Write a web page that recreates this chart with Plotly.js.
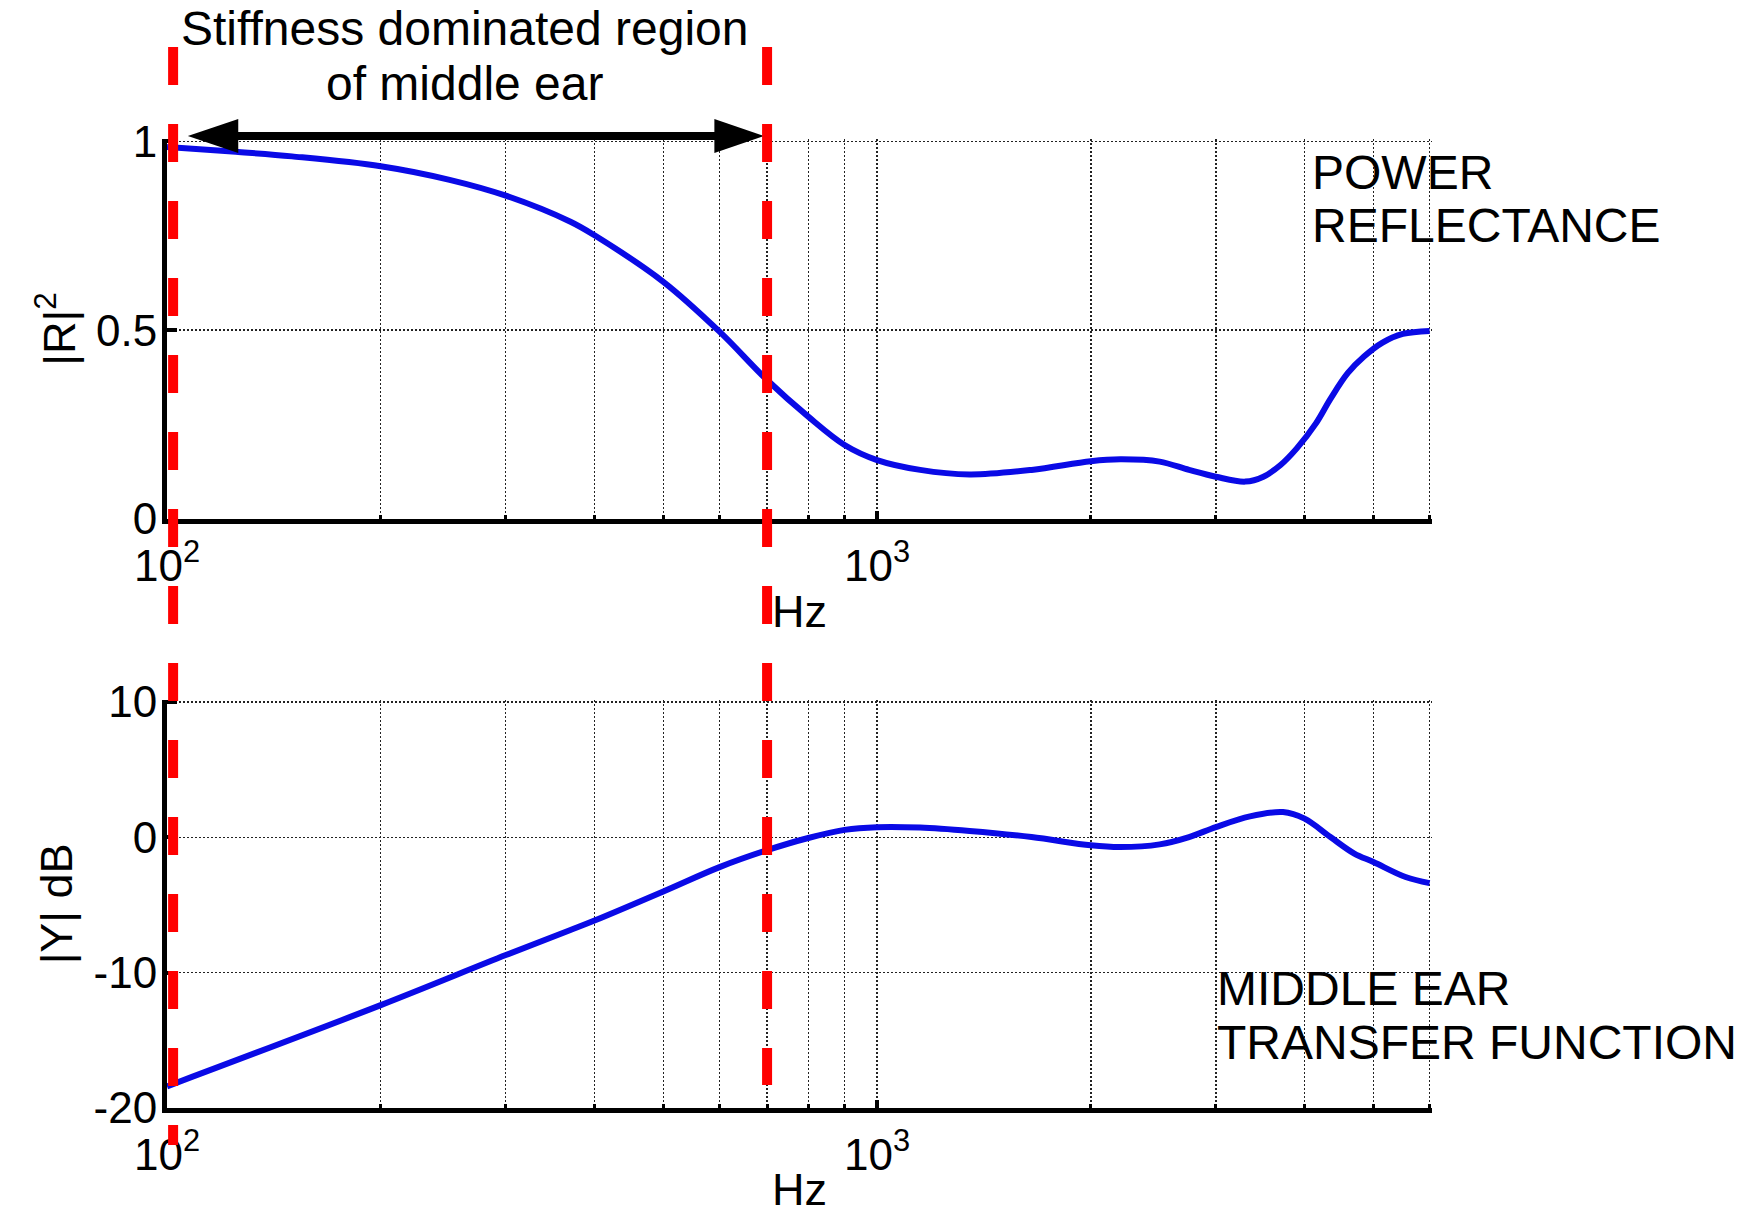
<!DOCTYPE html>
<html>
<head>
<meta charset="utf-8">
<script src="https://cdn.plot.ly/plotly-3.0.1.min.js"></script>
<style>html,body{margin:0;padding:0;background:#fff;}#chart{width:1753px;height:1215px;}</style>
</head>
<body>
<div id="chart"></div>
<script>
// ---- data ----
const freqR = [100, 125, 150, 200, 250, 300, 370, 400, 500, 600, 700, 800, 900, 1000, 1150, 1350, 1650, 2000, 2200, 2500, 2750, 3000, 3300, 3500, 3700, 3900, 4150, 4350, 4600, 4850, 5150, 5500, 6000];
const reflectance = [0.985, 0.972, 0.960, 0.934, 0.898, 0.856, 0.787, 0.751, 0.628, 0.496, 0.368, 0.271, 0.196, 0.156, 0.130, 0.118, 0.130, 0.153, 0.158, 0.152, 0.130, 0.112, 0.099, 0.112, 0.143, 0.187, 0.253, 0.318, 0.386, 0.430, 0.467, 0.490, 0.498];

const freqY = [100, 200, 300, 370, 400, 500, 600, 700, 800, 900, 1000, 1150, 1350, 1650, 2000, 2200, 2500, 2750, 3000, 3350, 3730, 4000, 4350, 4700, 5000, 5550, 6000];
const admittanceDb = [-18.4, -12.4, -8.7, -6.85, -6.15, -4.0, -2.2, -0.95, -0.05, 0.55, 0.75, 0.72, 0.47, 0.02, -0.59, -0.72, -0.52, 0.02, 0.76, 1.55, 1.87, 1.38, 0.02, -1.2, -1.82, -2.93, -3.38];

const xMajorTicks = [100, 1000];
const xMajorText = ['10<sup>2</sup>', '10<sup>3</sup>'];
const xMinorTicks = [200, 300, 400, 500, 600, 700, 800, 900, 2000, 3000, 4000, 5000, 6000];
const yTicksR = [0, 0.5, 1];
const yTextR = ['0', '0.5', '1'];
const yTicksY = [-20, -10, 0, 10];
const yTextY = ['-20', '-10', '0', '10'];

// stiffness-dominated region limits (Hz) and the arrow spanning it
const regionLow = 102;
const regionHigh = 700;
const arrowTips = [107, 693];
const arrowBases = [126, 590];

const panelLabels = [['POWER', 'REFLECTANCE'], ['MIDDLE EAR', 'TRANSFER FUNCTION']];
const titleLines = ['Stiffness dominated region', 'of middle ear'];

// ---- styling ----
const FONT = 'Liberation Sans, Arial, Helvetica, sans-serif';
const BLUE = '#0a0ae6';
const GRID = '#222222';

const traces = [
  {x: freqR, y: reflectance, xaxis: 'x', yaxis: 'y', type: 'scatter', mode: 'lines',
   line: {color: BLUE, width: 6, shape: 'spline', smoothing: 1}, hoverinfo: 'skip'},
  {x: freqY, y: admittanceDb, xaxis: 'x2', yaxis: 'y2', type: 'scatter', mode: 'lines',
   line: {color: BLUE, width: 6, shape: 'spline', smoothing: 1}, hoverinfo: 'skip'}
];

function xAxis(anchor) {
  return {
    type: 'log', range: [2, 3.7815], domain: [0, 1], anchor: anchor,
    showline: true, linecolor: '#000', linewidth: 5, zeroline: false,
    tickmode: 'array', tickvals: xMajorTicks, ticktext: xMajorText,
    ticks: 'inside', ticklen: 8, tickwidth: 4, tickcolor: '#000',
    ticklabelstandoff: 4,
    tickfont: {family: FONT, size: 44, color: '#000'},
    showgrid: true, gridcolor: GRID, gridwidth: 1.4, griddash: '2px,2px',
    minor: {tickmode: 'array', tickvals: xMinorTicks, ticks: 'inside', ticklen: 4, tickwidth: 3,
            tickcolor: '#000', showgrid: true, gridcolor: GRID, gridwidth: 1.4, griddash: '2px,2px'},
    title: {text: 'Hz', font: {family: FONT, size: 45, color: '#000'}, standoff: 8},
    automargin: false, fixedrange: true
  };
}
function yAxis(anchor, domain, range, vals, text, title) {
  return {
    domain: domain, range: range, anchor: anchor,
    showline: true, linecolor: '#000', linewidth: 5, zeroline: false,
    tickmode: 'array', tickvals: vals, ticktext: text,
    ticks: 'inside', ticklen: 10, tickwidth: 4, tickcolor: '#000',
    ticklabelstandoff: -4,
    tickfont: {family: FONT, size: 44, color: '#000'},
    showgrid: true, gridcolor: GRID, gridwidth: 1.4, griddash: '2px,2px',
    title: {text: title, font: {family: FONT, size: 45, color: '#000'}, standoff: 8},
    automargin: false, fixedrange: true
  };
}

const yArrow = 1.0031, hHead = 0.01754;
const shapes = [
  {type: 'line', xref: 'x', yref: 'paper', x0: arrowBases[0] * 0.98, x1: arrowBases[1] * 1.02, y0: yArrow, y1: yArrow,
   line: {color: '#000', width: 8}, layer: 'above'},
  {type: 'path', xref: 'x', yref: 'paper', fillcolor: '#000', line: {width: 0}, layer: 'above',
   path: `M${arrowTips[0]},${yArrow} L${arrowBases[0]},${yArrow + hHead} L${arrowBases[0]},${yArrow - hHead} Z`},
  {type: 'path', xref: 'x', yref: 'paper', fillcolor: '#000', line: {width: 0}, layer: 'above',
   path: `M${arrowTips[1]},${yArrow} L${arrowBases[1]},${yArrow + hHead} L${arrowBases[1]},${yArrow - hHead} Z`},
  {type: 'line', xref: 'x', yref: 'paper', x0: regionLow, x1: regionLow, y0: 1.09494, y1: -0.03818,
   line: {color: '#ff0000', width: 10, dash: '38px,39px'}, layer: 'above'},
  {type: 'line', xref: 'x', yref: 'paper', x0: regionHigh, x1: regionHigh, y0: 1.09494, y1: 0.02374,
   line: {color: '#ff0000', width: 10, dash: '38px,39px'}, layer: 'above'}
];

function label(text, x, y, xanchor) {
  return {text: text, x: x, y: y, xref: 'paper', yref: 'paper', xanchor: xanchor, yanchor: 'middle',
          showarrow: false, font: {family: FONT, size: 48, color: '#000'}};
}
const annotations = [
  label(titleLines[0], 0.23557, 1.11352, 'center'),
  label(titleLines[1], 0.23557, 1.05779, 'center'),
  label(panelLabels[0][0], 0.90393, 0.96594, 'left'),
  label(panelLabels[0][1], 0.90393, 0.91022, 'left'),
  label(panelLabels[1][0], 0.82883, 0.12281, 'left'),
  label(panelLabels[1][1], 0.82883, 0.06811, 'left')
];

const layout = {
  width: 1753, height: 1215,
  margin: {l: 167, r: 321, t: 139, b: 107, pad: 0},
  paper_bgcolor: '#fff', plot_bgcolor: '#fff',
  showlegend: false,
  font: {family: FONT, color: '#000'},
  xaxis: xAxis('y'),
  yaxis: yAxis('x', [0.60784, 1], [0, 1.006], yTicksR, yTextR, '|R|<sup>2</sup>'),
  xaxis2: xAxis('y2'),
  yaxis2: yAxis('x2', [0, 0.42136], [-20, 10.17], yTicksY, yTextY, '|Y| dB'),
  shapes: shapes,
  annotations: annotations
};

Plotly.newPlot('chart', traces, layout, {staticPlot: true, displayModeBar: false});
</script>
</body>
</html>
